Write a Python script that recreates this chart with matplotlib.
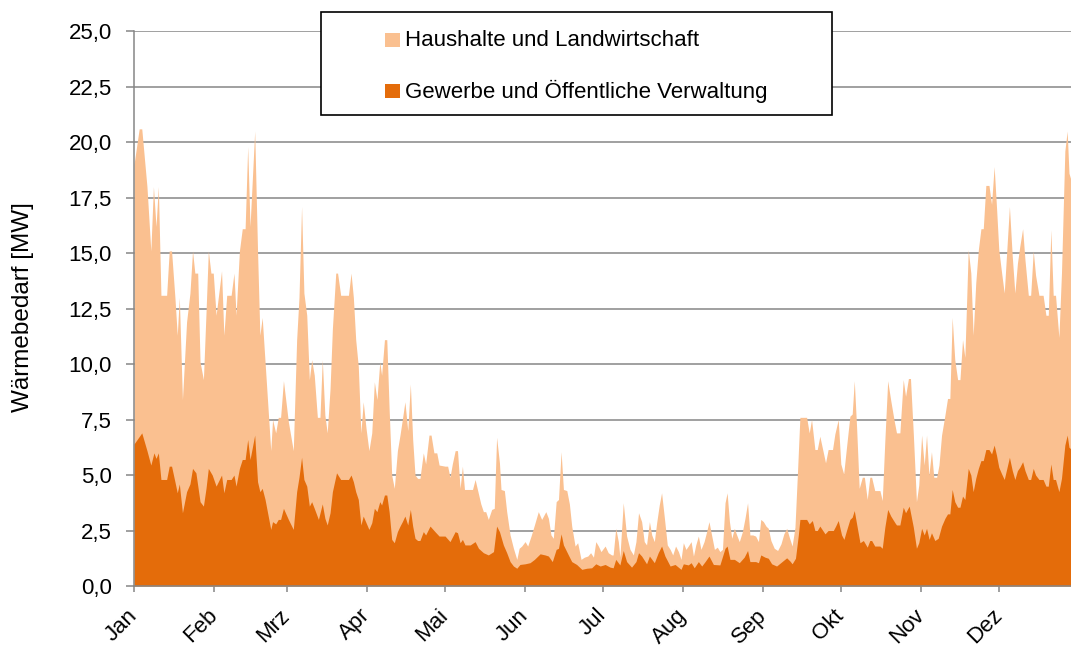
import matplotlib.pyplot as plt
from matplotlib.patches import Rectangle

# Style
COLOR_HAUSHALTE = "#FAC090"
COLOR_GEWERBE = "#E46C0A"
COLOR_GRID = "#868686"
FONT = "Liberation Sans"
FONTSIZE = 16

# Summe beider Gruppen (Oberkante der hellen Flaeche), Tag im Jahr -> MW
tage_summe = [
    0, 2, 3, 5, 6.5, 7.5, 8.5, 9.4, 10.4, 12.6,
    13.6, 14.5, 15.8, 16.7, 17.5, 18.7, 20.3, 21.6, 22.6, 23.5,
    24.6, 25.5, 26.8, 27.8, 28.7, 29.7, 30.6, 31.7, 33.8, 34.7,
    35.8, 37.5, 38.6, 39.4, 40.7, 41.8, 42.9, 43.9, 44.8, 46.6,
    47.7, 48.6, 49.5, 50.6, 52.8, 53.5, 54.7, 55.7, 56.6, 57.7,
    59.6, 61.5, 62.8, 63.7, 64.7, 65.6, 66.7, 67.7, 68.6, 69.6,
    70.8, 71.8, 72.7, 73.7, 74.6, 75.7, 76.6, 77.9, 78.6, 79.8,
    82.8, 83.8, 84.7, 85.6, 86.6, 87.6, 88.5, 89.6, 90.7, 91.8,
    92.8, 93.8, 94.9, 95.6, 96.7, 97.6, 98.5, 99.5, 100.5, 101.7,
    102.7, 103.6, 104.6, 105.7, 106.7, 107.6, 108.5, 109.5, 110.4, 111.7,
    112.6, 113.9, 114.7, 115.8, 116.9, 117.8, 120.1, 121.1, 122, 122.9,
    124, 124.9, 125.9, 126.8, 127.6, 130.7, 131.7, 132.7, 133.9, 134.9,
    135.8, 136.8, 138.1, 139.1, 140, 141.1, 141.7, 143, 143.9, 145.2,
    146.5, 147.8, 148.7, 149.7, 151, 152, 153.3, 154.6, 156.1, 157.4,
    159, 160, 161, 161.9, 163, 163.9, 164.9, 165.8, 167.1, 168.1,
    169, 170.3, 171.3, 172.6, 173.9, 175.2, 176.3, 177.4, 178.3, 179.3,
    180.3, 181.9, 183.1, 184.4, 185, 186, 187, 187.6, 188.9, 190.2,
    191.5, 192.8, 193.8, 194.8, 196, 197, 197.9, 199, 199.9, 200.9,
    201.8, 202.8, 203.7, 204.8, 205.9, 207, 208, 209.1, 210.2, 211.2,
    212.1, 213.1, 214, 215.1, 216, 216.9, 217.9, 218.9, 220.1, 221.1,
    222, 223, 224.1, 225.2, 226.2, 227.2, 228.2, 229, 229.9, 230.8,
    231.8, 232.7, 233.7, 234.9, 235.9, 236.9, 237.8, 238.9, 240, 241.1,
    242, 243, 244, 244.9, 245.9, 247.2, 248.5, 249.8, 250.9, 252,
    253, 254.1, 255.2, 256.2, 257.1, 259.7, 260.7, 261.6, 262.9, 263.8,
    264.8, 265.9, 267, 268, 269.7, 270.6, 271.9, 272.9, 274, 275.1,
    276.4, 277.3, 278.1, 279, 280, 281.2, 282, 283.1, 284.1, 284.8,
    286, 288, 288.9, 289.9, 291, 292.2, 293.5, 294.4, 295.7, 297,
    297.9, 299, 299.8, 300.9, 302.1, 303, 304.1, 305.1, 306, 306.9,
    307.9, 308.8, 309.9, 310.8, 311.8, 313.1, 314.1, 315, 315.9, 316.9,
    318, 318.9, 319.9, 320.8, 322.1, 323.1, 324, 325, 326, 327,
    327.9, 328.9, 330.1, 331.1, 332.1, 333, 333.9, 335, 336, 337,
    338, 339.1, 340.1, 341.1, 342, 343.1, 344, 345.3, 346.2, 347.2,
    348.1, 349.4, 351, 352.1, 353, 354, 354.9, 355.8, 357.1, 358.1,
    359.4, 360.3, 361, 362,
]
summe = [
    19.0, 20.6, 20.6, 18.0, 15.1, 18.0, 16.2, 18.0, 13.1, 13.1,
    15.1, 15.1, 13.0, 11.3, 13.0, 8.4, 11.9, 13.2, 15.1, 14.1,
    14.1, 10.1, 9.3, 12.3, 15.1, 14.1, 14.1, 12.2, 14.2, 11.3,
    13.1, 13.1, 14.1, 12.2, 15.1, 16.1, 16.1, 19.8, 16.2, 20.5,
    15.1, 11.3, 12.1, 10.1, 6.1, 7.5, 6.9, 7.6, 7.6, 9.25,
    7.4, 6.1, 11.1, 13.0, 17.1, 13.2, 12.2, 9.3, 10.2, 9.5,
    7.6, 7.6, 10.2, 7.7, 6.9, 8.9, 11.6, 14.1, 14.1, 13.1,
    13.1, 14.1, 13.0, 11.1, 9.9, 6.9, 8.3, 7.1, 6.1, 6.9,
    9.2, 8.4, 10.1, 9.5, 11.1, 11.1, 8.0, 5.0, 4.4, 6.1,
    6.8, 7.5, 8.3, 7.0, 9.1, 6.6, 5.0, 4.85, 4.85, 6.0,
    5.5, 6.8, 6.8, 6.0, 6.0, 5.45, 5.4, 5.4, 4.9, 5.5,
    6.1, 6.1, 4.4, 5.4, 4.35, 4.35, 4.8, 4.3, 3.7, 3.35,
    3.35, 3.0, 3.45, 3.5, 6.7, 5.55, 4.35, 4.3, 3.35, 2.3,
    1.7, 1.2, 1.7, 1.8, 2.0, 1.8, 2.25, 2.75, 3.35, 3.0,
    3.35, 3.05, 2.3, 2.15, 3.8, 3.9, 6.05, 4.35, 4.3, 3.7,
    2.7, 1.8, 1.95, 1.2, 1.3, 1.35, 1.5, 1.3, 2.0, 1.8,
    1.55, 1.8, 1.5, 1.4, 1.4, 2.6, 2.0, 1.3, 3.75, 2.25,
    1.65, 1.4, 2.0, 3.3, 2.9, 2.0, 1.85, 2.9, 2.3, 2.0,
    2.85, 3.65, 4.2, 3.05, 1.85, 1.65, 1.4, 1.8, 1.55, 1.2,
    1.95, 1.65, 1.8, 2.0, 1.35, 1.85, 2.25, 1.65, 2.0, 2.45,
    2.9, 2.3, 1.65, 1.75, 1.55, 1.65, 3.75, 4.2, 2.9, 2.15,
    2.6, 2.3, 2.0, 2.45, 3.05, 3.75, 2.3, 2.3, 2.25, 2.0,
    3.0, 2.9, 2.7, 2.6, 2.05, 1.7, 1.6, 1.9, 2.35, 2.6,
    2.2, 1.8, 2.65, 5.2, 7.6, 7.6, 6.9, 7.5, 6.15, 6.15,
    6.75, 6.15, 5.55, 6.15, 6.15, 6.85, 7.5, 5.5, 5.05, 6.25,
    7.65, 7.75, 9.25, 7.15, 4.4, 4.9, 4.9, 3.9, 4.9, 4.9,
    4.3, 4.3, 3.85, 6.55, 9.25, 8.35, 7.45, 6.9, 6.9, 9.3,
    8.55, 9.35, 9.35, 6.85, 3.8, 4.55, 6.8, 5.45, 6.8, 5.0,
    6.05, 4.9, 4.9, 5.45, 6.8, 7.7, 8.45, 8.45, 12.1, 10.2,
    9.3, 9.3, 11.1, 10.3, 15.15, 14.1, 11.3, 13.65, 15.15, 16.1,
    16.1, 18.05, 18.05, 17.2, 18.9, 17.1, 15.15, 14.1, 13.2, 15.15,
    17.1, 14.85, 13.2, 14.55, 15.3, 16.1, 14.7, 13.1, 13.1, 15.1,
    14.0, 13.1, 13.1, 12.2, 12.2, 16.05, 13.1, 13.1, 11.2, 14.1,
    19.6, 20.5, 18.6, 18.2,
]

# Gewerbe und Oeffentliche Verwaltung (dunkle Flaeche), Tag im Jahr -> MW
tage_gewerbe = [
    0, 3, 5, 6.5, 7.7, 8.5, 9.4, 10.4, 12.6, 13.6,
    14.5, 15.8, 16.7, 17.5, 18.7, 20.3, 21.6, 22.6, 23.9, 25.5,
    26.8, 27.8, 28.7, 30.2, 31.7, 33.8, 34.7, 35.8, 37.5, 38.6,
    39.4, 40.7, 41.8, 42.9, 43.9, 44.8, 46.6, 47.7, 48.6, 49.5,
    50.6, 52.8, 53.5, 54.7, 55.7, 56.6, 57.7, 59.6, 61.5, 62.8,
    63.7, 64.7, 65.6, 66.7, 67.7, 68.6, 69.6, 71.2, 72.7, 73.7,
    74.6, 75.7, 76.6, 78.2, 79.8, 82.8, 83.8, 84.7, 85.6, 86.6,
    87.6, 88.5, 89.6, 90.7, 91.8, 92.8, 93.8, 94.9, 95.6, 96.7,
    97.6, 98.5, 99.5, 100.5, 101.7, 102.7, 103.6, 104.6, 105.7, 106.7,
    107.6, 108.5, 109.5, 110.4, 111.7, 112.6, 114.3, 116.2, 117.8, 120.1,
    122, 124, 124.9, 125.9, 126.8, 127.8, 129.8, 131.7, 133, 134.9,
    136.8, 138.8, 140, 141.1, 142.6, 143.9, 145.2, 146.5, 147.8, 149,
    151, 152.9, 154.6, 156.8, 158.7, 160, 161.5, 163, 163.9, 164.9,
    165.8, 167.7, 169, 170.9, 172.9, 174.8, 176.7, 178.3, 180, 181.9,
    183.8, 185, 186, 187.6, 188.9, 190.2, 192.1, 193.8, 194.8, 196,
    197.9, 199, 200.9, 202.4, 203.7, 205, 207, 208.9, 211.2, 212.1,
    214, 215.1, 216.3, 217.9, 219.2, 220.5, 222, 223.7, 226.2, 228.2,
    229, 230.1, 231.8, 233.7, 235.6, 236.9, 237.8, 240, 241.1, 242,
    243.6, 244.9, 246.2, 248.1, 250, 252, 253.3, 254.1, 255.4, 256.5,
    257.1, 259.7, 260.7, 261.9, 262.9, 263.8, 264.8, 266.8, 268, 270,
    270.9, 271.9, 273.2, 274.1, 275.1, 276.4, 277.3, 278.1, 279, 280.3,
    281.6, 283.1, 284.1, 284.8, 286, 288, 288.9, 289.9, 291, 292.2,
    293.8, 294.4, 295.7, 297, 297.9, 299.3, 300.9, 302.1, 303, 304.1,
    305.1, 306, 307, 307.9, 309.2, 310.5, 311.8, 313.1, 314.1, 315,
    315.9, 316.9, 318, 318.9, 319.9, 320.8, 322.1, 323.1, 324, 325,
    326, 327, 327.9, 328.9, 330.1, 331.1, 332.1, 333, 333.9, 335,
    336, 337, 338, 339.1, 340.1, 341.1, 342, 343.1, 344, 345.3,
    346.2, 347.2, 348.1, 349.4, 351, 352.1, 353, 354, 354.9, 355.8,
    357.1, 358.1, 359.4, 360.3, 361, 362,
]
gewerbe = [
    6.4, 6.9, 6.1, 5.45, 6.0, 5.75, 6.0, 4.8, 4.8, 5.4,
    5.4, 4.7, 4.2, 4.6, 3.3, 4.25, 4.6, 5.3, 5.1, 3.8,
    3.6, 4.4, 5.3, 5.0, 4.5, 5.0, 4.2, 4.8, 4.8, 5.0,
    4.5, 5.3, 5.7, 5.7, 6.6, 5.7, 6.8, 4.7, 4.25, 4.4,
    3.9, 2.55, 2.9, 2.8, 3.0, 3.0, 3.5, 3.0, 2.55, 4.25,
    4.9, 5.8, 4.8, 4.5, 3.6, 3.8, 3.5, 3.0, 3.7, 3.05,
    2.75, 3.3, 4.25, 5.1, 4.8, 4.8, 5.0, 4.7, 4.25, 3.9,
    2.75, 3.15, 2.85, 2.55, 2.85, 3.5, 3.35, 3.8, 3.65, 4.1,
    4.1, 3.35, 2.1, 1.95, 2.45, 2.7, 2.9, 3.15, 2.75, 3.45,
    2.7, 2.15, 2.05, 2.05, 2.45, 2.3, 2.7, 2.45, 2.25, 2.25,
    2.0, 2.45, 2.4, 1.95, 2.1, 1.85, 1.85, 2.0, 1.7, 1.5,
    1.4, 1.55, 2.7, 2.45, 1.85, 1.5, 1.1, 0.9, 0.8, 0.97,
    1.0, 1.05, 1.2, 1.45, 1.4, 1.35, 1.1, 1.65, 1.7, 2.35,
    1.85, 1.4, 1.1, 0.97, 0.75, 0.8, 0.82, 1.0, 0.9, 0.97,
    0.85, 0.82, 1.2, 0.95, 1.6, 1.1, 0.85, 1.1, 1.5, 1.35,
    1.0, 1.35, 1.05, 1.5, 1.8, 1.35, 0.9, 0.97, 0.75, 1.0,
    0.95, 1.05, 0.82, 1.1, 0.9, 1.1, 1.35, 0.97, 0.95, 1.7,
    1.8, 1.2, 1.2, 1.05, 1.3, 1.6, 1.1, 1.1, 1.05, 1.4,
    1.3, 1.25, 1.0, 0.9, 1.08, 1.27, 1.12, 1.0, 1.25, 2.3,
    3.0, 3.0, 2.8, 2.95, 2.5, 2.5, 2.7, 2.35, 2.5, 2.5,
    2.7, 2.95, 2.3, 2.1, 2.5, 3.0, 3.1, 3.4, 2.8, 1.95,
    2.05, 1.75, 2.05, 2.05, 1.8, 1.8, 1.7, 2.65, 3.45, 3.15,
    2.85, 2.75, 2.75, 3.55, 3.3, 3.6, 2.65, 1.7, 1.95, 2.6,
    2.3, 2.6, 2.1, 2.4, 2.05, 2.15, 2.7, 3.05, 3.25, 3.25,
    4.35, 3.8, 3.55, 3.55, 4.05, 3.9, 5.3, 5.0, 4.25, 4.85,
    5.3, 5.65, 5.65, 6.15, 6.15, 5.95, 6.35, 5.9, 5.35, 5.05,
    4.8, 5.3, 5.8, 5.2, 4.8, 5.2, 5.35, 5.6, 5.2, 4.8,
    4.8, 5.3, 5.0, 4.8, 4.8, 4.5, 4.5, 5.5, 4.8, 4.8,
    4.25, 4.85, 6.35, 6.8, 6.25, 6.15,
]

monate = ["Jan", "Feb", "Mrz", "Apr", "Mai", "Jun",
          "Jul", "Aug", "Sep", "Okt", "Nov", "Dez"]
monatsanfang = [0, 31, 59, 90, 120, 151, 181, 212, 243, 273, 304, 334]

y_werte = [0, 2.5, 5, 7.5, 10, 12.5, 15, 17.5, 20, 22.5, 25]
y_texte = ["0,0", "2,5", "5,0", "7,5", "10,0", "12,5",
           "15,0", "17,5", "20,0", "22,5", "25,0"]

LABEL_HAUSHALTE = "Haushalte und Landwirtschaft"
LABEL_GEWERBE = "Gewerbe und Öffentliche Verwaltung"


def main():
    plt.rcParams["font.family"] = [FONT, "DejaVu Sans"]

    W, H = 1071, 648
    fig = plt.figure(figsize=(W / 100, H / 100), dpi=100)

    # Plot area in pixels: x 134 .. (day 364), y 31 .. 586 from top
    px_day = 2.59
    left, right = 134, 134 + 364 * px_day
    top, bottom = 31.2, 586
    ax = fig.add_axes([left / W, 1 - bottom / H, (right - left) / W, (bottom - top) / H])

    ###############
    # Areas       #
    ###############
    ax.fill_between(tage_summe, 0, summe, color=COLOR_HAUSHALTE, lw=0, zorder=1)
    ax.fill_between(tage_gewerbe, 0, gewerbe, color=COLOR_GEWERBE, lw=0, zorder=2)

    ###############
    # Axes        #
    ###############
    ax.set_xlim(0, 364)
    ax.set_ylim(0, 25)
    ax.set_axisbelow(True)
    ax.yaxis.grid(True, color=COLOR_GRID, lw=1.1)

    for side in ("top", "right"):
        ax.spines[side].set_visible(False)
    for side in ("left", "bottom"):
        ax.spines[side].set_color(COLOR_GRID)
        ax.spines[side].set_linewidth(1.1)
        ax.spines[side].set_zorder(3)

    ax.set_yticks(y_werte)
    ax.set_yticklabels(y_texte)
    ax.tick_params(axis="y", length=6, width=1.1, color=COLOR_GRID, pad=10,
                   labelsize=FONTSIZE)

    ax.set_xticks(monatsanfang)
    ax.set_xticklabels(monate)
    ax.tick_params(axis="x", length=4, width=1.1, color=COLOR_GRID, pad=15,
                   labelsize=FONTSIZE)
    plt.setp(ax.get_xticklabels(), rotation=45, ha="right", va="center",
             rotation_mode="anchor")

    fig.text(23 / W, 1 - 307 / H, "Wärmebedarf [MW]", rotation=90,
             ha="center", va="center", fontsize=17.5)

    ###############
    # Legend box  #
    ###############
    fig.patches.append(Rectangle((321 / W, 1 - 115 / H), 511 / W, 103 / H,
                                 transform=fig.transFigure, facecolor="white",
                                 edgecolor="black", lw=1.2, zorder=5))
    eintraege = [(LABEL_HAUSHALTE, COLOR_HAUSHALTE, 40),
                 (LABEL_GEWERBE, COLOR_GEWERBE, 91)]
    for label, color, yc in eintraege:
        fig.patches.append(Rectangle((385 / W, 1 - (yc + 7) / H), 15 / W, 14 / H,
                                     transform=fig.transFigure, facecolor=color,
                                     lw=0, zorder=6))
        fig.text(405 / W, 1 - yc / H, label, ha="left", va="center",
                 fontsize=FONTSIZE, zorder=7)

    plt.savefig("out.png", dpi=100)
    plt.close()


if __name__ == "__main__":
    main()
